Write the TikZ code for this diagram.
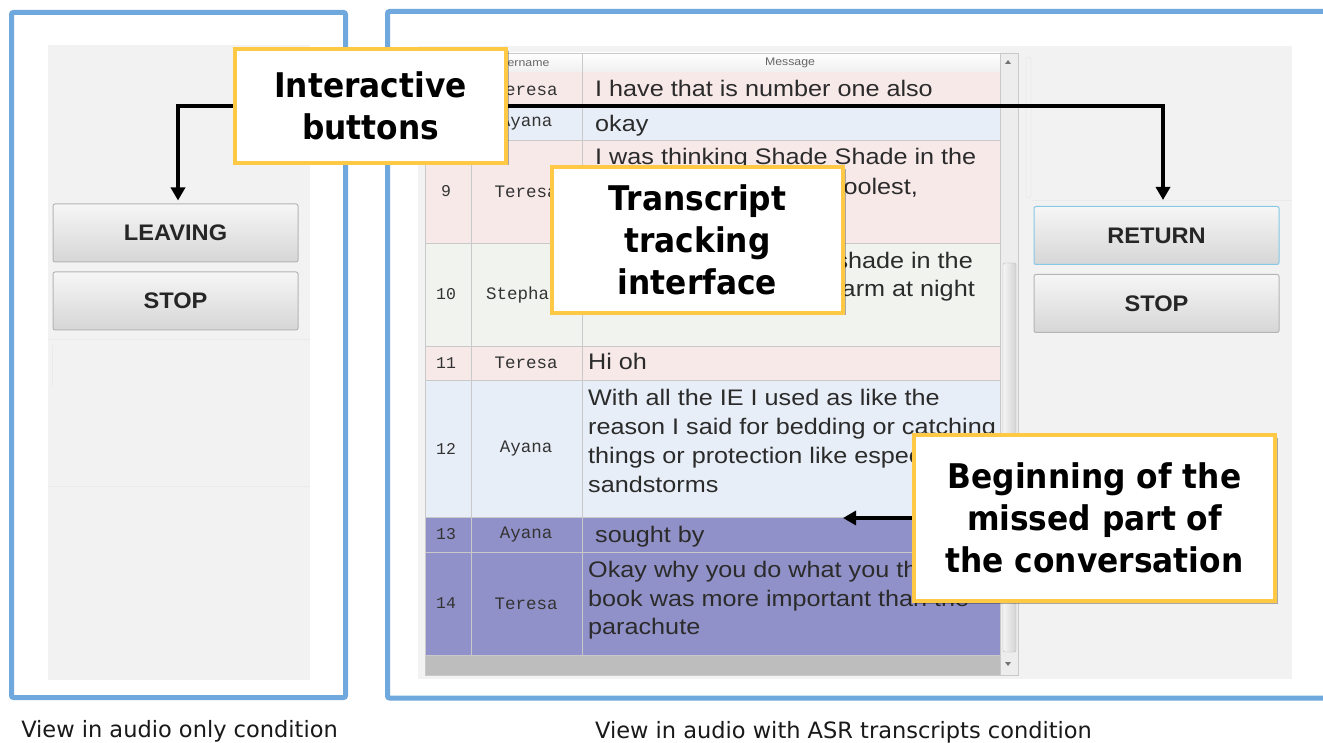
\documentclass[tikz,border=0pt]{standalone}
\usepackage{fontspec}
\setmainfont{DejaVu Sans}
\newfontfamily\calloutfont{DejaVu Sans}[FakeStretch=0.92]
\newfontfamily\msgfont{Liberation Sans}[FakeStretch=1.12]
\newfontfamily\btnfont{Liberation Sans}[FakeStretch=1.05]
\newfontfamily\cellmono{Liberation Mono}
\usetikzlibrary{arrows.meta,shadows,calc}

\definecolor{framebl}{HTML}{6FA8DC}
\definecolor{panelgr}{HTML}{F2F2F2}
\definecolor{calloutyl}{HTML}{FFC845}
\definecolor{rowpink}{HTML}{F8E9E9}
\definecolor{rowblue}{HTML}{E8EEF7}
\definecolor{rowgreen}{HTML}{F1F4EE}
\definecolor{rowpurple}{HTML}{9191C9}
\definecolor{gridgr}{HTML}{C9C9C9}
\definecolor{txtgr}{HTML}{2B2B2B}
\definecolor{faintgr}{HTML}{EAEAEA}
\definecolor{btnedge}{HTML}{B4B4B4}
\definecolor{btntop}{HTML}{F6F6F6}
\definecolor{btnbot}{HTML}{D6D6D6}
\definecolor{retedge}{HTML}{86C8E6}

\begin{document}
\begin{tikzpicture}[x=1pt,y=-1pt,
  frame/.style={draw=framebl,line width=5pt,rounded corners=2pt},
  faint/.style={draw=faintgr,line width=0.8pt},
  grid/.style={draw=gridgr,line width=0.8pt},
  msg/.style={anchor=base west,inner sep=0pt,text=txtgr,
    font=\msgfont\fontsize{22.5}{28}\selectfont},
  msgend/.style={msg,anchor=base east},
  usr/.style={inner sep=0pt,text=black!80,font=\cellmono\fontsize{17.5}{20}\selectfont},
  numtxt/.style={inner sep=0pt,text=black!80,font=\cellmono\fontsize{16.5}{20}\selectfont},
  hdr/.style={inner sep=0pt,text=black!60,font=\msgfont\fontsize{11}{13}\selectfont},
  btn/.style={draw=btnedge,line width=1pt,rounded corners=2pt,top color=btntop,
    bottom color=btnbot,minimum width=245pt,minimum height=58pt,inner sep=0pt,
    text=black!85,font=\btnfont\bfseries\fontsize{22.5}{26}\selectfont},
  callout/.style={draw=calloutyl,line width=4.5pt,fill=white,align=center,
    inner sep=0pt,text=black,font=\calloutfont\bfseries\fontsize{34}{42}\selectfont,
    drop shadow={shadow xshift=2.5pt,shadow yshift=-2.5pt,opacity=.3,fill=black}},
  conn/.style={draw=black,line width=3.8pt,-{Triangle[length=13pt,width=14pt]}},
  caption/.style={inner sep=0pt,text=black!90,font=\fontsize{22.5}{27}\selectfont}]

\useasboundingbox (0,0) rectangle (1323,743);
\fill[white] (0,0) rectangle (1323,743);

% outer frames of the two views
\draw[frame] (11.5,12.5) rectangle (345.5,697.5);
\begin{scope}
  \clip (0,0) rectangle (1323,743);
  \draw[frame] (387.5,11.5) rectangle (1345,698);
\end{scope}

% window backgrounds
\fill[panelgr] (48,45) rectangle (310,680);
\fill[panelgr] (418,46) rectangle (1292,679);
\draw[faint] (48,339) -- (310,339);
\draw[faint] (48,486) -- (310,486);
\draw[faint] (52,345) -- (52,386);
\draw[faint,rounded corners=2.5pt] (1026,57) rectangle (1031,198);
\draw[faint] (1031,200) -- (1292,200);

% transcript table: header
\shade[top color=white,bottom color=black!6] (425,53) rectangle (1000,72);
\draw[grid] (425,72) -- (1000,72);
\node[hdr] (hdruser) at (521,63) {Username};
\node[hdr] (hdrmsg) at (790,63) {Message};

% transcript table: rows
\foreach \t/\b/\c in {72/106/rowpink,106/140/rowblue,140/243/rowpink,
    243/346/rowgreen,346/380/rowpink,380/517/rowblue,517/552/rowpurple,
    552/655/rowpurple}
  \fill[\c] (425,\t) rectangle (1000,\b);
\fill[black!26] (425,655) rectangle (1000,675);
\foreach \y in {106,140,243,346,380,517,552,655}
  \draw[grid] (425,\y) -- (1000,\y);
\draw[grid] (471,53) -- (471,655);
\draw[grid] (582,53) -- (582,655);

\begin{scope}
  \clip (425,72) rectangle (1000,655);
  \foreach \n/\y in {9/191.5,10/294.5,11/363,12/448.5,13/534.5,14/603.5}
    \node[numtxt] (num\n) at (446,\y) {\n};
  \foreach \n/\u/\y in {7/Teresa/89.5,8/Ayana/123,9/Teresa/191.5,11/Teresa/363,
      12/Ayana/448.5,13/Ayana/534.5,14/Teresa/603.5}
    \node[usr] (usr\n) at (526,\y) {\u};
  \node[usr,anchor=west] (usr10) at (486,294.5) {Stepha};

  \node[msg] (m7) at (595,97) {I have that is number one also};
  \node[msg] (m8) at (595,132) {okay};
  \node[msg] (m9a) at (595,165) {I was thinking Shade Shade in the};
  \node[msgend] (m9b) at (918,195) {coolest,};
  \node[msgend] (m10a) at (973,269) {shade in the};
  \node[msgend] (m10b) at (975,297) {arm at night};
  \node[msg] (m11) at (588,370) {Hi oh};
  \node[msg] (m12a) at (588,405) {With all the IE I used as like the};
  \node[msg] (m12b) at (588,434) {reason I said for bedding or catching};
  \node[msg] (m12c) at (588,463) {things or protection like espec};
  \node[msg] (m12d) at (588,492) {sandstorms};
  \node[msg] (m13) at (595,542) {sought by};
  \node[msg] (m14a) at (588,577) {Okay why you do what you th};
  \node[msg] (m14b) at (588,606) {book was more important than the};
  \node[msg] (m14c) at (588,634) {parachute};
\end{scope}

% scrollbar
\fill[black!7] (1000,53) rectangle (1018,675);
\draw[grid] (425,53) rectangle (1018,675);
\draw[grid] (1000,53) -- (1000,675);
\shade[left color=black!4,right color=black!17,draw=black!28,rounded corners=2pt]
  (1003,263) rectangle (1016,652);
\fill[black!55] (1005,64) -- (1011,64) -- (1008,60) -- cycle;
\fill[black!55] (1005,662) -- (1011,662) -- (1008,666) -- cycle;

% buttons
\node[btn] (leave) at (175.5,233) {LEAVING};
\node[btn] (stopl) at (175.5,301) {STOP};
\node[btn,draw=retedge] (ret) at (1156.5,235.5) {RETURN};
\node[btn] (stopr) at (1156.5,303.5) {STOP};

% callouts
\node[callout,minimum width=271pt,minimum height=114pt] (ib) at (370.5,106)
  {Interactive\\buttons};
\node[callout,minimum width=291pt,minimum height=146pt] (tti) at (697.5,240)
  {Transcript\\tracking\\interface};
\node[callout,minimum width=361pt,minimum height=166pt] (beg) at (1094.5,518)
  {Beginning of the\\missed part of\\the conversation};

% connectors
\coordinate (misstip) at (843,518);
\draw[conn,shorten >=3pt] (ib.west) -| ([xshift=2.5pt]leave.north);
\draw[conn,shorten >=6pt] (ib.east) -| ([xshift=6.5pt]ret.north);
\draw[conn] (beg.west) -- (misstip);

% captions
\node[caption] (capl) at (179.5,731) {View in audio only condition};
\node[caption] (capr) at (843.5,732) {View in audio with ASR transcripts condition};
\end{tikzpicture}
\end{document}
